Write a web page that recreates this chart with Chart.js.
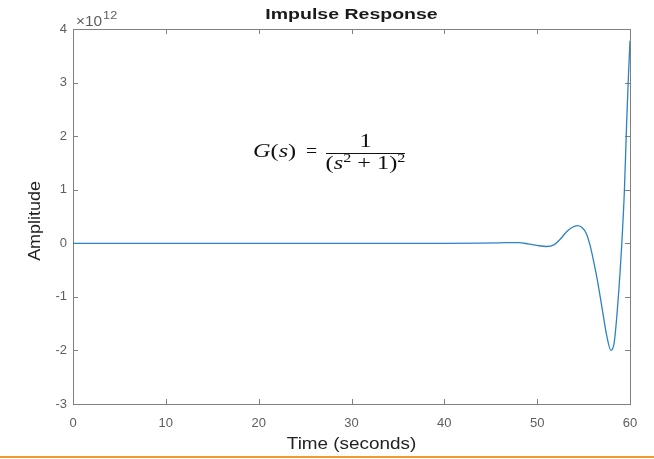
<!DOCTYPE html>
<html>
<head>
<meta charset="utf-8">
<script src="https://cdn.jsdelivr.net/npm/chart.js@4.4.1/dist/chart.umd.min.js"></script>
<style>
  body { margin: 0; background: #ffffff; }
  #impulseChart { display: block; }
</style>
</head>
<body>
<canvas id="impulseChart" width="654" height="459"></canvas>
<script>
// values (amplitude in units of 1e12)
let timeValues = [0, 10, 20, 30, 40, 44, 46, 47, 48, 49, 50, 51, 51.8, 52.5, 53.2, 53.8, 54.3, 54.8, 55.3, 55.7,
    56.1, 56.5, 57.0, 57.5, 57.95, 58.3, 58.7, 59.1, 59.4, 59.65, 59.85, 60];
let amplitudeValues = [0, 0, 0, 0, 0, 0.002, 0.008, 0.014, 0.012, -0.01, -0.04, -0.06, -0.03, 0.08, 0.22, 0.30, 0.33, 0.30, 0.18, -0.04,
    -0.35, -0.7, -1.22, -1.73, -2.0, -1.85, -1.1, -0.05, 1.0, 2.3, 3.2, 3.78];

let xTickValues = [0, 10, 20, 30, 40, 50, 60];
let yTickValues = [-3, -2, -1, 0, 1, 2, 3, 4];

let chartTitle = 'Impulse Response';
let xAxisTitle = 'Time (seconds)';
let yAxisTitle = 'Amplitude';
let exponentBase = '\u00d710';
let exponentPower = '12';

let axisGrey = '#808080';
let labelGrey = '#5e5e5e';
let sans = '"Liberation Sans", Arial, sans-serif';
let serif = '"Liberation Serif", "DejaVu Serif", serif';

let points = [];
for (let i = 0; i < timeValues.length; i++) {
    points.push({ x: timeValues[i], y: amplitudeValues[i] });
}

// text is a bit wider in the reference than in our fonts, so stretch it sideways
function drawStretched(ctx, text, x, y, font, sx, align, angle) {
    ctx.save();
    ctx.font = font;
    ctx.translate(x, y);
    if (angle) ctx.rotate(angle);
    ctx.scale(sx, 1);
    ctx.textAlign = align;
    ctx.fillText(text, 0, 0);
    let w = ctx.measureText(text).width * sx;
    ctx.restore();
    return w;
}

let boxPlugin = {
    id: 'matlabBox',
    beforeDatasetsDraw(chart) {
        let ctx = chart.ctx;
        let area = chart.chartArea;
        let xScale = chart.scales.x;
        let yScale = chart.scales.y;
        ctx.save();
        ctx.strokeStyle = axisGrey;
        ctx.lineWidth = 1;
        ctx.strokeRect(area.left + 0.5, area.top + 0.5, area.right - area.left, area.bottom - area.top);
        ctx.beginPath();
        for (let i = 0; i < xTickValues.length; i++) {
            let px = Math.round(xScale.getPixelForValue(xTickValues[i])) + 0.5;
            ctx.moveTo(px, area.bottom);
            ctx.lineTo(px, area.bottom - 5);
            ctx.moveTo(px, area.top);
            ctx.lineTo(px, area.top + 5);
        }
        for (let i = 0; i < yTickValues.length; i++) {
            let py = Math.round(yScale.getPixelForValue(yTickValues[i])) + 0.5;
            ctx.moveTo(area.left, py);
            ctx.lineTo(area.left + 5, py);
            ctx.moveTo(area.right, py);
            ctx.lineTo(area.right - 5, py);
        }
        ctx.stroke();
        ctx.restore();
    },
    afterDraw(chart) {
        let ctx = chart.ctx;
        let area = chart.chartArea;
        let midX = (area.left + area.right) / 2;
        ctx.save();
        ctx.textBaseline = 'alphabetic';

        // title and axis titles
        ctx.fillStyle = '#1a1a1a';
        drawStretched(ctx, chartTitle, midX, 18.5, 'bold 15px ' + sans, 1.3, 'center');
        ctx.fillStyle = '#222222';
        drawStretched(ctx, xAxisTitle, midX, 448.5, '16px ' + sans, 1.18, 'center');
        drawStretched(ctx, yAxisTitle, 40, 221, '16px ' + sans, 1.12, 'center', -Math.PI / 2);

        // exponent label above the y axis
        ctx.fillStyle = labelGrey;
        let w = drawStretched(ctx, exponentBase, area.left + 3, 26, '14px ' + sans, 1.1, 'left');
        drawStretched(ctx, exponentPower, area.left + 4 + w, 18.5, '10.5px ' + sans, 1.2, 'left');

        // transfer function annotation
        ctx.fillStyle = '#111111';
        let sx = 1.35;
        let x = 253;
        let base = 157;
        let parts = [
            ['italic 18px ' + serif, 'G'],
            ['18px ' + serif, '('],
            ['italic 18px ' + serif, 's'],
            ['18px ' + serif, ')']
        ];
        for (let i = 0; i < parts.length; i++) {
            x += drawStretched(ctx, parts[i][1], x, base, parts[i][0], sx, 'left');
        }
        drawStretched(ctx, '=', 306, base, '18px ' + serif, 1.1, 'left');

        let barLeft = 326;
        let barRight = 405;
        let mid = (barLeft + barRight) / 2;
        ctx.fillRect(barLeft, 153, barRight - barLeft, 1);
        drawStretched(ctx, '1', mid, 147, '18px ' + serif, sx, 'center');

        let denom = [
            ['18px ' + serif, '(', 0],
            ['italic 18px ' + serif, 's', 0],
            ['12px ' + serif, '2', -7],
            ['18px ' + serif, ' + 1)', 0],
            ['12px ' + serif, '2', -7]
        ];
        let total = 0;
        for (let i = 0; i < denom.length; i++) {
            ctx.font = denom[i][0];
            total += ctx.measureText(denom[i][1]).width * sx;
        }
        let dx = mid - total / 2;
        for (let i = 0; i < denom.length; i++) {
            dx += drawStretched(ctx, denom[i][1], dx, 169 + denom[i][2], denom[i][0], sx, 'left');
        }

        // orange rule along the bottom of the figure
        ctx.fillStyle = '#f39a2e';
        ctx.fillRect(0, 456, chart.width, 2);
        ctx.restore();
    }
};

let data = {
    datasets: [
        {
            label: 'impulse',
            data: points,
            borderColor: '#2b83c3',
            backgroundColor: '#2b83c3',
            borderWidth: 1.3,
            pointRadius: 0,
            cubicInterpolationMode: 'monotone',
            fill: false
        }
    ]
};

let config = {
    type: 'line',
    data,
    options: {
        responsive: false,
        animation: false,
        layout: { padding: { top: 29, right: 24, left: 0, bottom: 0 } },
        plugins: {
            legend: { display: false },
            tooltip: { enabled: false },
            title: { display: false }
        },
        scales: {
            x: {
                type: 'linear',
                min: 0,
                max: 60,
                afterBuildTicks(scale) {
                    scale.ticks = xTickValues.map(v => ({ value: v }));
                },
                afterFit(scale) { scale.height = 55; },
                grid: { display: false, drawTicks: false },
                border: { display: false },
                ticks: {
                    color: labelGrey,
                    padding: 12,
                    maxRotation: 0,
                    font: { size: 13, family: sans }
                }
            },
            y: {
                type: 'linear',
                min: -3,
                max: 4,
                afterBuildTicks(scale) {
                    scale.ticks = yTickValues.map(v => ({ value: v }));
                },
                afterFit(scale) { scale.width = 73; },
                grid: { display: false, drawTicks: false },
                border: { display: false },
                ticks: {
                    color: labelGrey,
                    padding: 6,
                    font: { size: 13, family: sans }
                }
            }
        }
    },
    plugins: [boxPlugin]
};

let impulseChart = new Chart(
    document.getElementById('impulseChart'),
    config
);
</script>
</body>
</html>
